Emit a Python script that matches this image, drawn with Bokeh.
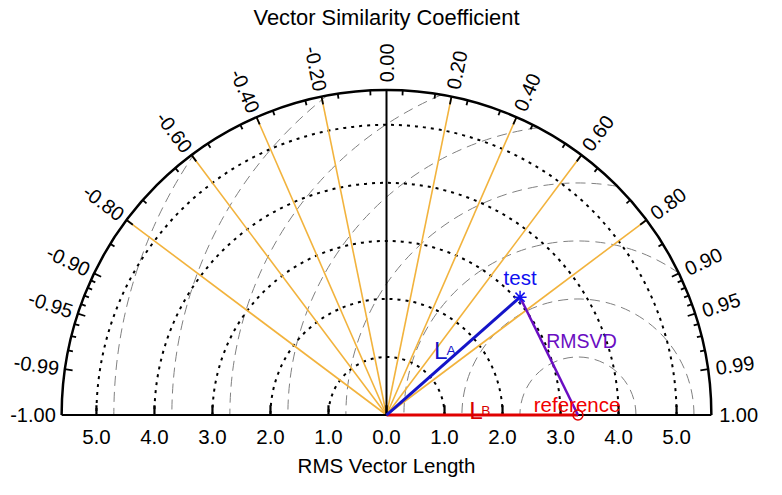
import numpy as np
from bokeh.plotting import figure
from bokeh.models import Range1d, Label
from bokeh.embed import file_html
from bokeh.resources import INLINE
from bokeh.core.properties import value

# ---------------- data ----------------
ref_length = 3.3          # L_B
test_length = 3.07        # L_A
test_vsc = 0.75           # vector similarity coefficient of test

rms_circle_radii = [1.0, 2.0, 3.0, 4.0, 5.0]
rmsvd_circle_radii = [1.0, 2.0, 3.0, 4.0, 5.0, 6.0, 7.0, 8.0]

vsc_label_values = [-1.0, -0.99, -0.95, -0.9, -0.8, -0.6, -0.4, -0.2, 0.0,
                    0.2, 0.4, 0.6, 0.8, 0.9, 0.95, 0.99, 1.0]
vsc_label_texts = ["-1.00", "-0.99", "-0.95", "-0.90", "-0.80", "-0.60", "-0.40", "-0.20", "0.00",
                   "0.20", "0.40", "0.60", "0.80", "0.90", "0.95", "0.99", "1.00"]
vsc_ray_values = [-0.8, -0.6, -0.4, -0.2, 0.2, 0.4, 0.6, 0.8]
vsc_major_ticks = [-0.99, -0.95, -0.9, -0.8, -0.6, -0.4, -0.2, 0.2, 0.4, 0.6, 0.8, 0.9, 0.95, 0.99]
vsc_minor_ticks = [-0.98, -0.97, -0.96, -0.94, -0.93, -0.92, -0.91, -0.85, -0.75, -0.65, -0.55,
                   -0.45, -0.35, -0.25, -0.15, -0.05, 0.05, 0.15, 0.25, 0.35, 0.45, 0.55, 0.65,
                   0.75, 0.85, 0.91, 0.92, 0.93, 0.94, 0.96, 0.97, 0.98]
length_ticks = [-5, -4, -3, -2, -1, 0, 1, 2, 3, 4, 5]
length_tick_labels = ["5.0", "4.0", "3.0", "2.0", "1.0", "0.0", "1.0", "2.0", "3.0", "4.0", "5.0"]
R_MAX = 5.6

# ---------------- layout ----------------
S = 0.975                 # overall scale so that everything fits
REFPX = 59.5              # pixels per unit before scaling
PXS = REFPX * S
W, H = 766, 479
OX, OY = 386.0, 414.5
FONT_NAME = "Liberation Sans"
FONT = value(FONT_NAME)

def u(px):
    return px / REFPX

def fs(px):
    return f"{px * S:.1f}px"

p = figure(width=W, height=H, output_backend="svg", toolbar_location=None, tools="",
           x_range=Range1d(-OX / PXS, (W - OX) / PXS),
           y_range=Range1d(-(H - OY) / PXS, OY / PXS),
           x_axis_type=None, y_axis_type=None, min_border=0)
p.outline_line_color = None
p.background_fill_color = "white"
p.border_fill_color = "white"

# gray dashed RMSVD circles around reference, clipped to outer arc
c = ref_length
for r in rmsvd_circle_radii:
    if c + r <= R_MAX:
        a0 = 0.0
    else:
        xi = (R_MAX ** 2 - r ** 2 + c ** 2) / (2 * c)
        a0 = float(np.arccos(np.clip((xi - c) / r, -1, 1)))
    p.arc(x=c, y=0, radius=r, start_angle=a0, end_angle=np.pi,
          line_color="#808080", line_width=1, line_dash="10 6")

# dotted RMS length circles
p.arc(x=[0] * len(rms_circle_radii), y=[0] * len(rms_circle_radii), radius=rms_circle_radii,
      start_angle=0, end_angle=np.pi, line_color="black", line_width=2, line_dash="3 5")

# yellow rays
th = np.arccos(np.array(vsc_ray_values))
p.segment(x0=0, y0=0, x1=R_MAX * np.cos(th), y1=R_MAX * np.sin(th),
          line_color="#F2B33D", line_width=1.6)

# zero line
p.segment(x0=[0], y0=[0], x1=[0], y1=[R_MAX], line_color="black", line_width=2)

# outer arc and baseline
p.arc(x=0, y=0, radius=R_MAX, start_angle=0, end_angle=np.pi, line_color="black", line_width=2.5)
p.segment(x0=[-R_MAX], y0=[0], x1=[R_MAX], y1=[0], line_color="black", line_width=2)

# arc ticks (inward)
for vals, ln in ((vsc_major_ticks, u(8)), (vsc_minor_ticks, u(5))):
    t = np.arccos(np.array(vals))
    p.segment(x0=R_MAX * np.cos(t), y0=R_MAX * np.sin(t),
              x1=(R_MAX - ln) * np.cos(t), y1=(R_MAX - ln) * np.sin(t),
              line_color="black", line_width=1.8)

# baseline ticks
lt = np.array(length_ticks, dtype=float)
p.segment(x0=lt, y0=0, x1=lt, y1=u(10), line_color="black", line_width=2.2)
p.text(x=lt, y=u(-23), text=length_tick_labels, text_align="center", text_baseline="middle",
       text_font=FONT, text_font_size=fs(21), text_color="black")

# angular labels
lv = np.array(vsc_label_values)
lth = np.arccos(lv)
pos = lv >= 0
gp, gn = R_MAX + u(8), R_MAX + u(6)
for i in range(len(lv)):
    if pos[i]:
        p.add_layout(Label(x=gp * np.cos(lth[i]), y=gp * np.sin(lth[i]), text=vsc_label_texts[i],
                           angle=float(lth[i]), text_align="left", text_baseline="middle",
                           text_font=FONT_NAME, text_font_size=fs(20.5), text_color="black"))
    else:
        p.add_layout(Label(x=gn * np.cos(lth[i]), y=gn * np.sin(lth[i]), text=vsc_label_texts[i],
                           angle=float(lth[i] - np.pi), text_align="right", text_baseline="middle",
                           text_font=FONT_NAME, text_font_size=fs(20.5), text_color="black"))

# data: reference and test
tx = test_length * test_vsc
ty = test_length * np.sqrt(1 - test_vsc ** 2)
p.segment(x0=[0], y0=[0], x1=[ref_length], y1=[0], line_color="#E00000", line_width=3)
p.segment(x0=[0], y0=[0], x1=[tx], y1=[ty], line_color="#1414C8", line_width=3)
p.segment(x0=[tx], y0=[ty], x1=[ref_length], y1=[0], line_color="#6A0DC2", line_width=2.5)
p.scatter(x=[tx], y=[ty], marker="asterisk", size=13, line_color="#1010F0", line_width=1.5)
p.scatter(x=[ref_length], y=[0], marker="circle", size=10, fill_color=None,
          line_color="#E00000", line_width=1.5)

# annotations
p.text(x=[tx], y=[ty + u(20)], text=["test"], text_align="center", text_baseline="middle",
       text_font=FONT, text_font_size=fs(21), text_color="#1010F0")
p.text(x=[ref_length - 0.015], y=[u(11)], text=["reference"], text_align="center",
       text_baseline="alphabetic", text_font=FONT, text_font_size=fs(21), text_color="#F00000")
p.text(x=[u(200)], y=[u(76)], text=["RMSVD"], text_align="center", text_baseline="middle",
       text_font=FONT, text_font_size=fs(20), text_color="#6A0DC2")
p.text(x=[u(48.8)], y=[u(66)], text=["L"], text_align="left", text_baseline="alphabetic",
       text_font=FONT, text_font_size=fs(25), text_color="#1414C8")
p.text(x=[u(61.5)], y=[u(66)], text=["A"], text_align="left", text_baseline="alphabetic",
       text_font=FONT, text_font_size=fs(14), text_color="#1414C8")
p.text(x=[u(84.8)], y=[u(4.3)], text=["L"], text_align="left", text_baseline="alphabetic",
       text_font=FONT, text_font_size=fs(25), text_color="#D80000")
p.text(x=[u(97.3)], y=[u(4.3)], text=["B"], text_align="left", text_baseline="alphabetic",
       text_font=FONT, text_font_size=fs(14), text_color="#D80000")

# titles
p.add_layout(Label(x=0, y=u(408), text="Vector Similarity Coefficient", text_align="center",
                   text_baseline="middle", text_font=FONT_NAME, text_font_size=fs(22.5),
                   text_color="black"))
p.add_layout(Label(x=0, y=u(-52), text="RMS Vector Length", text_align="center",
                   text_baseline="middle", text_font=FONT_NAME, text_font_size=fs(21),
                   text_color="black"))

open("out.html", "w").write(file_html(p, INLINE))
